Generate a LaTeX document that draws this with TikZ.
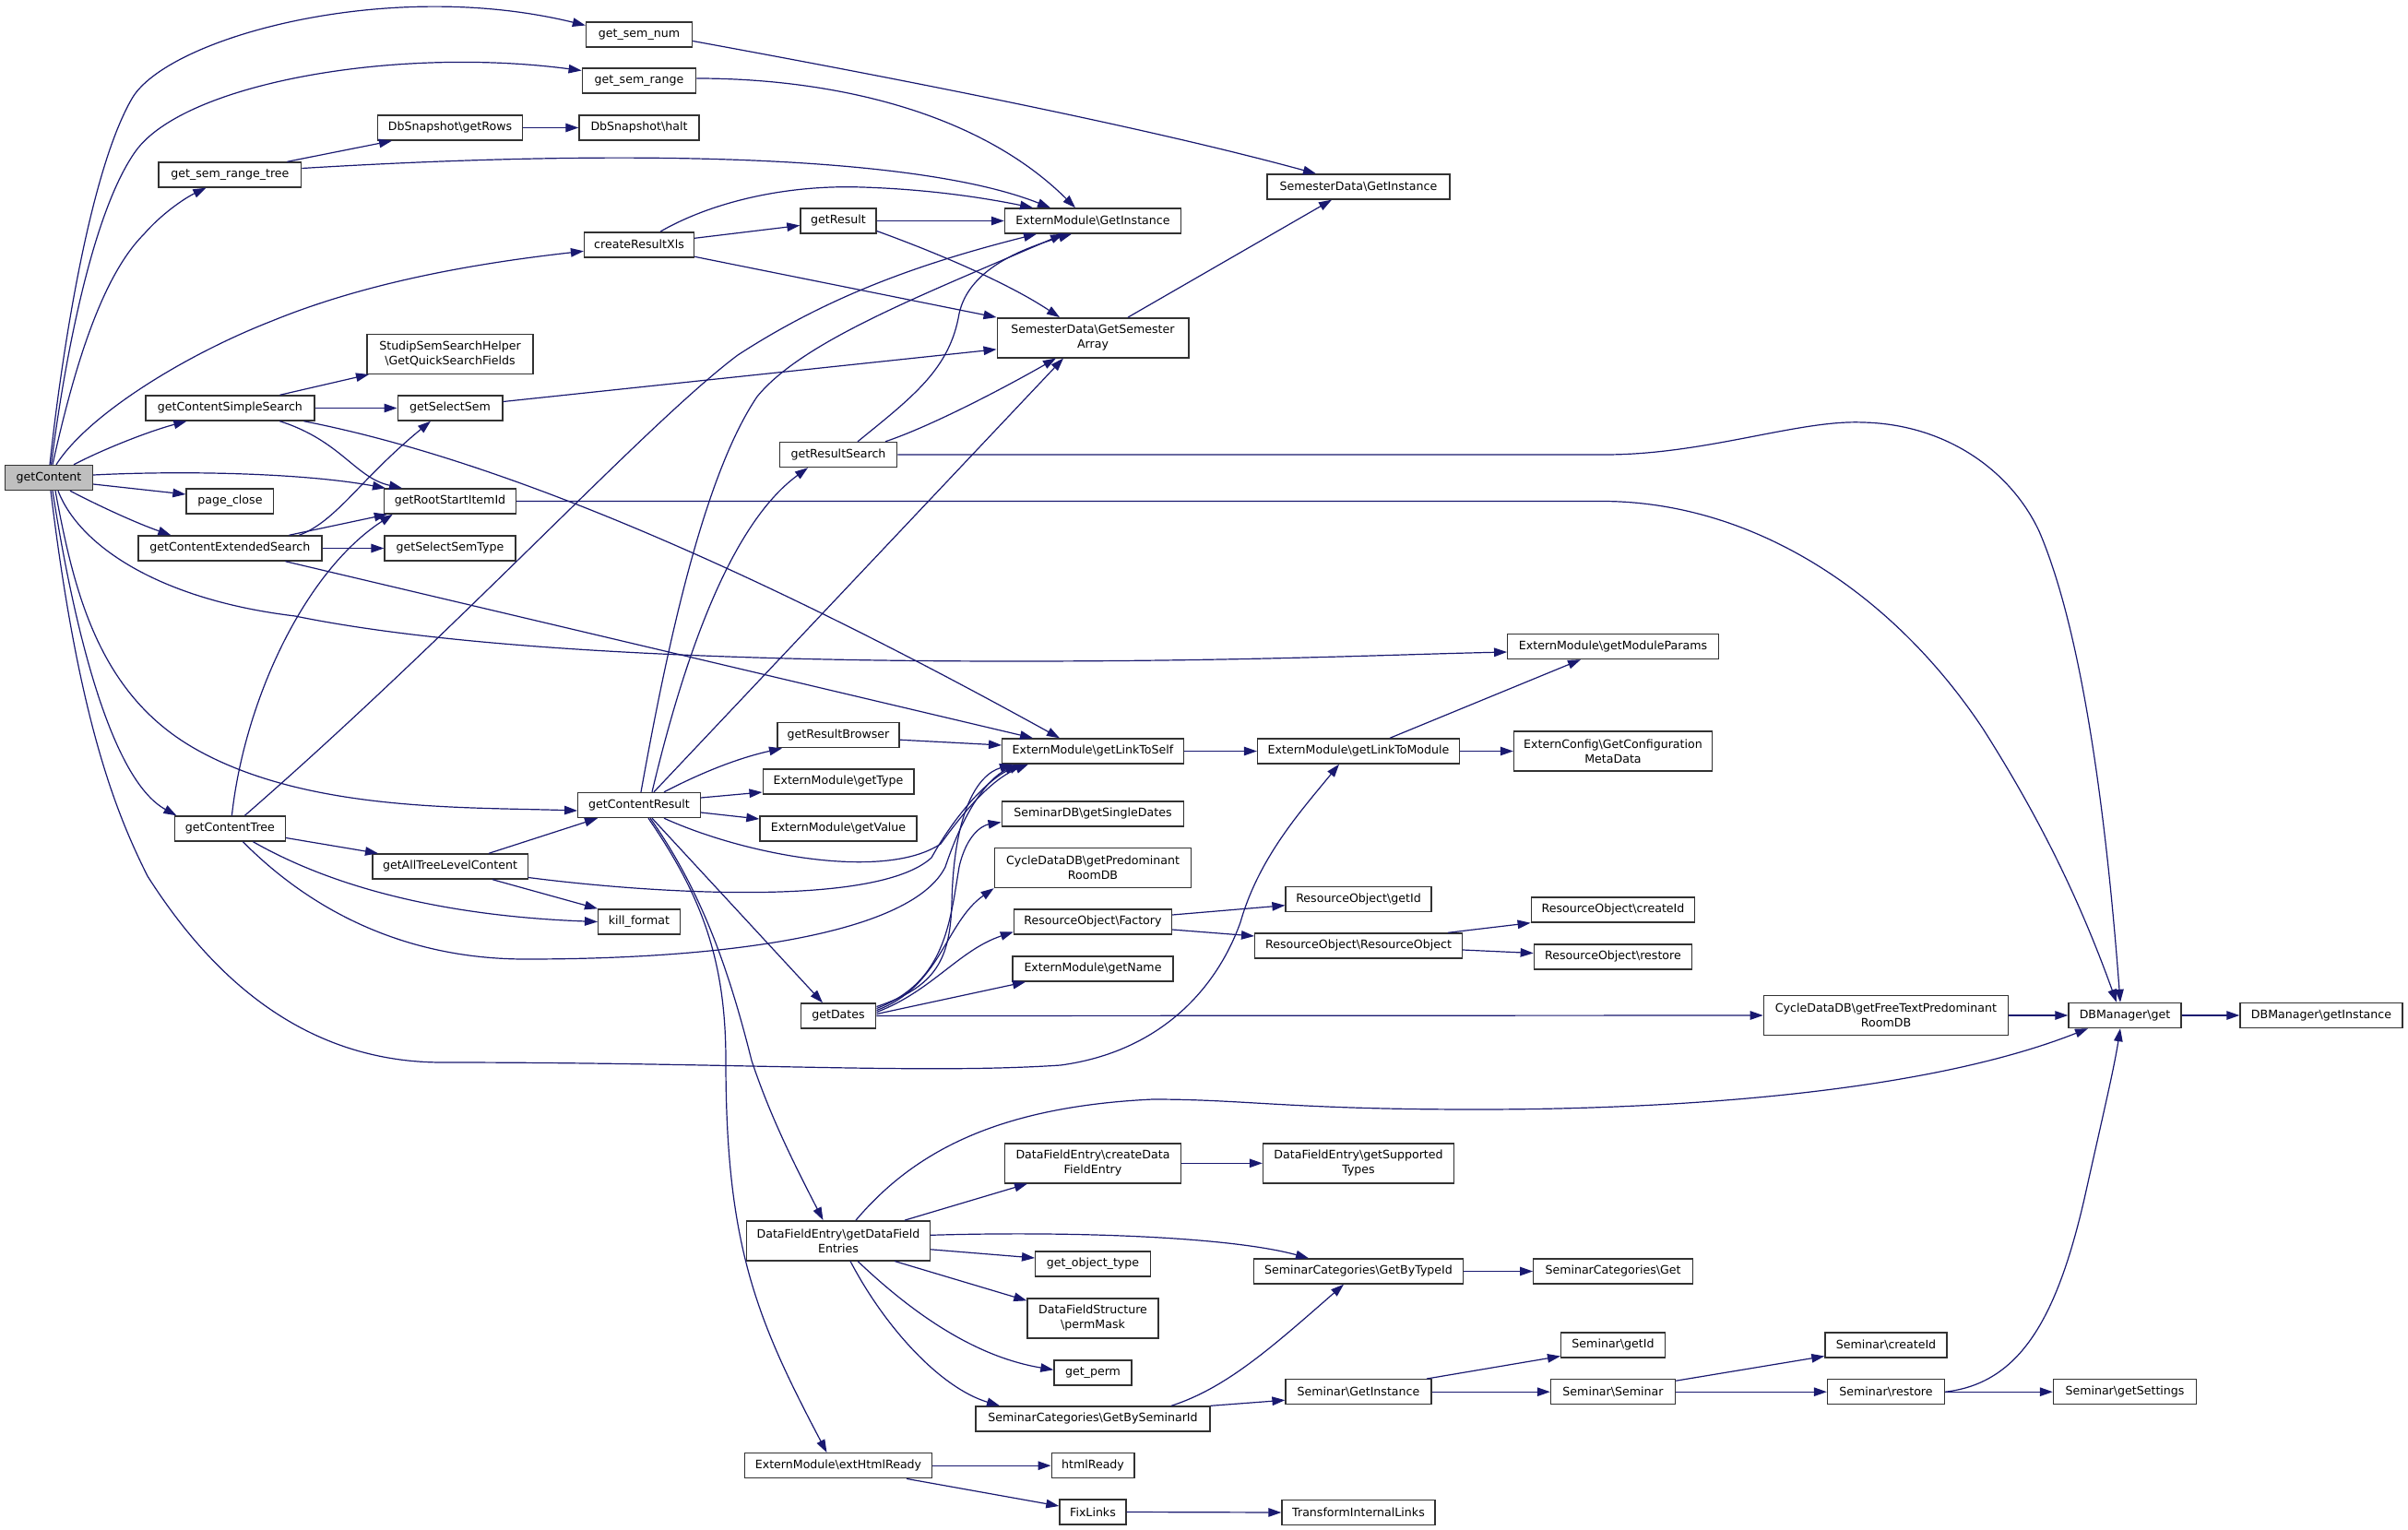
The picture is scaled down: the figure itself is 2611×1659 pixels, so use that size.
\documentclass[tikz,border=0pt]{standalone}
\usepackage{fontspec}
\newfontfamily\dvs{DejaVu Sans}
\usetikzlibrary{arrows.meta}
\definecolor{mblue}{RGB}{25,25,112}
\definecolor{rootgray}{RGB}{191,191,191}
\definecolor{boxline}{RGB}{50,50,50}
\begin{document}
\begin{tikzpicture}[x=1pt,y=-1pt,
  box/.style={draw=boxline, line width=1.4pt, fill=white, inner sep=0pt, minimum height=27pt, align=center, font=\dvs\fontsize{12.6pt}{16pt}\selectfont},
  tall/.style={minimum height=43pt},
  rootbox/.style={box, fill=rootgray},
  edge/.style={draw=mblue, line width=1.2pt, -{Triangle[length=14pt,width=9.5pt]}}]
\useasboundingbox (0,0) rectangle (2611,1659);
\fill[white] (0,0) rectangle (2611,1659);
% nodes
\node[rootbox, minimum width=95pt] (gc) at (53,518) {getContent};
\node[box, minimum width=115pt] (gsn) at (693,37.5) {get\_sem\_num};
\node[box, minimum width=123.5pt] (gsr) at (693,87.5) {get\_sem\_range};
\node[box, minimum width=157.5pt] (dbrows) at (488,138.5) {DbSnapshot\textbackslash getRows};
\node[box, minimum width=130pt] (dbhalt) at (693,138.5) {DbSnapshot\textbackslash halt};
\node[box, minimum width=154.6pt] (gsrt) at (249.4,189.5) {get\_sem\_range\_tree};
\node[box, minimum width=118.8pt] (crx) at (693,265.3) {createResultXls};
\node[box, tall, minimum width=180pt] (gqsf) at (488,383.8) {StudipSemSearchHelper\\\textbackslash GetQuickSearchFields};
\node[box, minimum width=183pt] (gcss) at (249.4,442.5) {getContentSimpleSearch};
\node[box, minimum width=113.6pt] (gss) at (488,442.5) {getSelectSem};
\node[box, minimum width=94.7pt] (pc) at (249.4,543.5) {page\_close};
\node[box, minimum width=143pt] (grsi) at (488,543.5) {getRootStartItemId};
\node[box, minimum width=199pt] (gces) at (249.4,594.5) {getContentExtendedSearch};
\node[box, minimum width=141.8pt] (gsst) at (488,594.5) {getSelectSemType};
\node[box, minimum width=120pt] (gct) at (249.4,898.5) {getContentTree};
\node[box, minimum width=168.4pt] (gatlc) at (488,939.5) {getAllTreeLevelContent};
\node[box, minimum width=88.6pt] (kf) at (693,999.5) {kill\_format};
\node[box, minimum width=132.5pt] (gcr) at (693,873) {getContentResult};
\node[box, minimum width=82pt] (gr) at (909,239.5) {getResult};
\node[box, minimum width=191pt] (emgi) at (1185,239.5) {ExternModule\textbackslash GetInstance};
\node[box, tall, minimum width=207.6pt] (sdgsa) at (1185,366.3) {SemesterData\textbackslash GetSemester\\Array};
\node[box, minimum width=127.5pt] (grs) at (909,493) {getResultSearch};
\node[box, minimum width=198pt] (sdgi) at (1473,202.5) {SemesterData\textbackslash GetInstance};
\node[box, minimum width=132pt] (grb) at (909,797.2) {getResultBrowser};
\node[box, minimum width=196.5pt] (emglts) at (1185,814.5) {ExternModule\textbackslash getLinkToSelf};
\node[box, minimum width=163.6pt] (emgt) at (909,847.5) {ExternModule\textbackslash getType};
\node[box, minimum width=170pt] (emgv) at (909,898.5) {ExternModule\textbackslash getValue};
\node[box, minimum width=197.5pt] (sdbgsd) at (1185,882.5) {SeminarDB\textbackslash getSingleDates};
\node[box, tall, minimum width=213.5pt] (cdgpr) at (1185,941) {CycleDataDB\textbackslash getPredominant\\RoomDB};
\node[box, minimum width=171pt] (rof) at (1185,999.5) {ResourceObject\textbackslash Factory};
\node[box, minimum width=174pt] (emgn) at (1185,1050.5) {ExternModule\textbackslash getName};
\node[box, minimum width=81.5pt] (gd) at (909,1101.5) {getDates};
\node[box, minimum width=228.5pt] (emgmp) at (1749,701) {ExternModule\textbackslash getModuleParams};
\node[box, minimum width=218.8pt] (emgltm) at (1473,814.5) {ExternModule\textbackslash getLinkToModule};
\node[box, tall, minimum width=215pt] (ecgcm) at (1749,814.5) {ExternConfig\textbackslash GetConfiguration\\MetaData};
\node[box, minimum width=157.8pt] (rogi) at (1473,974.7) {ResourceObject\textbackslash getId};
\node[box, minimum width=177.5pt] (roci) at (1749,986.5) {ResourceObject\textbackslash createId};
\node[box, minimum width=224.6pt] (roro) at (1473,1025.5) {ResourceObject\textbackslash ResourceObject};
\node[box, minimum width=171.3pt] (rore) at (1749,1037.5) {ResourceObject\textbackslash restore};
\node[box, tall, minimum width=265.2pt] (cdgft) at (2045,1101) {CycleDataDB\textbackslash getFreeTextPredominant\\RoomDB};
\node[box, minimum width=122pt] (dbg) at (2304,1101) {DBManager\textbackslash get};
\node[box, minimum width=176pt] (dbgi) at (2517,1101) {DBManager\textbackslash getInstance};
\node[box, tall, minimum width=191pt] (dfecd) at (1185,1261.3) {DataFieldEntry\textbackslash createData\\FieldEntry};
\node[box, tall, minimum width=199pt] (dfegd) at (909,1345.3) {DataFieldEntry\textbackslash getDataField\\Entries};
\node[box, minimum width=124.6pt] (got) at (1185,1370.5) {get\_object\_type};
\node[box, tall, minimum width=142pt] (dfspm) at (1185,1429.3) {DataFieldStructure\\\textbackslash permMask};
\node[box, minimum width=84pt] (gp) at (1185,1488.3) {get\_perm};
\node[box, minimum width=254pt] (scgbs) at (1185,1538.5) {SeminarCategories\textbackslash GetBySeminarId};
\node[box, minimum width=203pt] (emehr) at (909,1589.2) {ExternModule\textbackslash extHtmlReady};
\node[box, minimum width=89.6pt] (hr) at (1185,1589.2) {htmlReady};
\node[box, minimum width=72pt] (fl) at (1185,1639.5) {FixLinks};
\node[box, tall, minimum width=207pt] (dfegst) at (1473,1261.3) {DataFieldEntry\textbackslash getSupported\\Types};
\node[box, minimum width=226.8pt] (scgbt) at (1473,1378.5) {SeminarCategories\textbackslash GetByTypeId};
\node[box, minimum width=172.5pt] (scg) at (1749,1378.5) {SeminarCategories\textbackslash Get};
\node[box, minimum width=112.7pt] (sgi) at (1749,1458.5) {Seminar\textbackslash getId};
\node[box, minimum width=157.8pt] (sGI) at (1473,1509.2) {Seminar\textbackslash GetInstance};
\node[box, minimum width=135pt] (ss) at (1749,1509.2) {Seminar\textbackslash Seminar};
\node[box, minimum width=166pt] (til) at (1473,1640) {TransformInternalLinks};
\node[box, minimum width=132pt] (sci) at (2045,1458.5) {Seminar\textbackslash createId};
\node[box, minimum width=127pt] (sre) at (2045,1509.2) {Seminar\textbackslash restore};
\node[box, minimum width=155pt] (sgs) at (2304,1509.2) {Seminar\textbackslash getSettings};
% edges from getContent
\draw[edge] ([xshift=1pt]gc.north) .. controls (65,400) and (95,190) .. (143,107) .. controls (181,41) and (420,-25) .. ([yshift=10pt]gsn.west);
\draw[edge] ([xshift=2.5pt]gc.north) .. controls (70,390) and (100,230) .. (147,164) .. controls (200,90) and (430,50) .. ([yshift=11pt]gsr.west);
\draw[edge] ([xshift=4pt]gc.north) .. controls (80,400) and (110,300) .. (156,254) .. controls (175,232) and (200,215) .. ([xshift=-26pt]gsrt.south);
\draw[edge] ([xshift=8pt]gc.north) .. controls (95,450) and (200,385) .. (295,348) .. controls (400,305) and (520,285) .. ([yshift=-7pt]crx.west);
\draw[edge] ([xshift=27pt]gc.north) .. controls (110,488) and (160,468) .. ([xshift=-47pt]gcss.south);
\draw[edge] ([yshift=3pt]gc.east) .. controls (200,510) and (330,513) .. ([xshift=-70pt]grsi.north);
\draw[edge] ([yshift=-7pt]gc.east) -- ([yshift=7.5pt]pc.west);
\draw[edge] ([xshift=23pt]gc.south) .. controls (110,550) and (150,568) .. ([xshift=-64pt]gces.north);
\draw[edge] ([xshift=10pt]gc.south) .. controls (85,590) and (170,650) .. (320,668) .. controls (500,705) and (800,717) .. (1100,717) .. controls (1350,717) and (1500,710) .. ([yshift=-6pt]emgmp.west);
\draw[edge] ([xshift=4pt]gc.south) .. controls (80,680) and (120,845) .. ([xshift=-58pt]gct.north);
\draw[edge] ([xshift=7pt]gc.south) .. controls (80,640) and (106,751) .. (210,811) .. controls (330,880) and (500,875) .. ([yshift=-6pt]gcr.west);
\draw[edge] ([xshift=2pt]gc.south) .. controls (85,780) and (125,880) .. (160,950) .. controls (230,1060) and (330,1152) .. (480,1152) .. controls (800,1152) and (1000,1165) .. (1150,1155) .. controls (1260,1140) and (1320,1070) .. (1345,1000) .. controls (1365,930) and (1410,880) .. ([xshift=-21pt]emgltm.south);
% getContentSimpleSearch
\draw[edge] ([xshift=54pt]gcss.north) -- ([xshift=-88pt]gqsf.south);
\draw[edge] (gcss.east) -- (gss.west);
\draw[edge] ([xshift=54pt]gcss.south) .. controls (370,478) and (385,518) .. ([xshift=-52pt]grsi.north);
\draw[edge] ([xshift=80pt]gcss.south) .. controls (500,490) and (750,580) .. ([xshift=-36pt]emglts.north);
% getContentExtendedSearch
\draw[edge] (gces.east) -- (gsst.west);
\draw[edge] ([xshift=64pt]gces.north) -- ([xshift=4pt]grsi.south west);
\draw[edge] ([xshift=75pt]gces.north) .. controls (365,565) and (390,520) .. ([xshift=-21pt]gss.south);
\draw[edge] ([xshift=60pt]gces.south) -- ([xshift=-65pt]emglts.north);
% getContentTree
\draw[edge] ([yshift=-10pt]gct.east) -- ([xshift=-78pt]gatlc.north);
\draw[edge] ([xshift=25pt]gct.south) .. controls (340,950) and (450,992) .. (kf.west);
\draw[edge] ([xshift=14pt]gct.south) .. controls (330,980) and (430,1040) .. (570,1040) .. controls (800,1040) and (990,1010) .. (1025,940) .. controls (1045,880) and (1070,845) .. ([xshift=-82pt]emglts.south);
\draw[edge] ([xshift=2pt]gct.north) .. controls (265,760) and (330,620) .. ([xshift=10pt]grsi.south west);
\draw[edge] ([xshift=16pt]gct.north) .. controls (500,680) and (700,460) .. (800,385) .. controls (900,320) and (1000,285) .. ([xshift=-61pt]emgi.south);
% getAllTreeLevelContent
\draw[edge] ([xshift=42pt]gatlc.north) -- ([xshift=-45pt]gcr.south);
\draw[edge] ([xshift=46pt]gatlc.south) -- (kf.north west);
\draw[edge] ([yshift=-12pt]gatlc.east) .. controls (700,968) and (950,985) .. (1010,930) .. controls (1035,885) and (1070,845) .. ([xshift=-77pt]emglts.south);
% getContentResult
\draw[edge] ([xshift=14pt]gcr.north) .. controls (740,720) and (790,570) .. ([xshift=-33pt]grs.south);
\draw[edge] ([xshift=2pt]gcr.north) .. controls (720,720) and (760,520) .. (821,430) .. controls (870,370) and (1000,320) .. ([xshift=-32pt]emgi.south);
\draw[edge] ([xshift=16pt]gcr.north) -- ([xshift=-32pt]sdgsa.south);
\draw[edge] ([xshift=27pt]gcr.north) .. controls (760,838) and (800,822) .. ([xshift=-61pt]grb.south);
\draw[edge] ([yshift=8pt]gcr.east) -- ([yshift=-11.5pt]emgt.west);
\draw[edge] ([yshift=-8pt]gcr.east) -- ([yshift=10.5pt]emgv.west);
\draw[edge] ([xshift=27pt]gcr.south) .. controls (810,928) and (960,955) .. (1020,915) .. controls (1045,880) and (1075,845) .. ([xshift=-70pt]emglts.south);
\draw[edge] ([xshift=14pt]gcr.south) -- ([xshift=-17pt]gd.north);
\draw[edge] ([xshift=12pt]gcr.south) .. controls (760,965) and (790,1050) .. (815,1150) .. controls (835,1210) and (860,1260) .. ([xshift=-16.5pt]dfegd.north);
\draw[edge] ([xshift=10pt]gcr.south) .. controls (760,970) and (787,1040) .. (787,1150) .. controls (787,1350) and (820,1430) .. ([xshift=-12.5pt]emehr.north);
% getResultSearch
\draw[edge] ([xshift=21pt]grs.north) .. controls (990,430) and (1030,400) .. (1040,340) .. controls (1050,295) and (1100,272) .. ([xshift=-23pt]emgi.south);
\draw[edge] ([xshift=51pt]grs.north) .. controls (1010,462) and (1090,420) .. ([xshift=-40pt]sdgsa.south);
\draw[edge] (grs.east) -- (1740,493) .. controls (1850,493) and (1950,455) .. (2020,458) .. controls (2110,460) and (2180,510) .. (2211,576) .. controls (2260,690) and (2285,900) .. ([xshift=-5pt]dbg.north);
% getRootStartItemId
\draw[edge] (grsi.east) -- (1740,543.5) .. controls (1900,545) and (2050,640) .. (2150,790) .. controls (2220,900) and (2260,990) .. ([xshift=-9pt]dbg.north);
% getResult, createResultXls
\draw[edge] (gr.east) -- (emgi.west);
\draw[edge] ([yshift=-11pt]gr.east) .. controls (1010,272) and (1090,305) .. ([xshift=-36pt]sdgsa.north);
\draw[edge] ([yshift=7pt]crx.east) -- ([yshift=-5pt]gr.west);
\draw[edge] ([xshift=23pt]crx.north) .. controls (770,220) and (850,200) .. (935,203) .. controls (1000,205) and (1060,213) .. ([xshift=-65pt]emgi.north);
\draw[edge] ([yshift=-13pt]crx.east) -- (sdgsa.north west);
% get_sem_range_tree, get_sem_num, get_sem_range
\draw[edge] ([xshift=62pt]gsrt.north) -- ([xshift=-63pt]dbrows.south);
\draw[edge] ([yshift=7pt]gsrt.east) .. controls (700,160) and (1000,170) .. ([xshift=-46pt]emgi.north);
\draw[edge] (dbrows.east) -- (dbhalt.west);
\draw[edge] ([yshift=-7pt]gsn.east) .. controls (1000,90) and (1250,140) .. ([xshift=-46pt]sdgi.north);
\draw[edge] ([yshift=2.5pt]gsr.east) .. controls (900,85) and (1060,120) .. ([xshift=-19pt]emgi.north);
\draw[edge] ([xshift=38pt]sdgsa.north) -- ([xshift=-29pt]sdgi.south);
\draw[edge] ([yshift=7pt]gss.east) -- ([yshift=-12.5pt]sdgsa.west);
% getResultBrowser, link chain
\draw[edge] ([yshift=-5pt]grb.east) -- ([yshift=6.5pt]emglts.west);
\draw[edge] (emglts.east) -- (emgltm.west);
\draw[edge] ([xshift=34pt]emgltm.north) -- ([xshift=-35pt]emgmp.south);
\draw[edge] (emgltm.east) -- (ecgcm.west);
% getDates
\draw[edge] ([yshift=10pt]gd.east) .. controls (1015,1070) and (1030,1040) .. (1032,980) .. controls (1034,880) and (1060,840) .. ([xshift=-87pt]emglts.south);
\draw[edge] ([yshift=8pt]gd.east) .. controls (1025,1065) and (1030,1000) .. (1040,940) .. controls (1048,905) and (1065,895) .. ([yshift=-9pt]sdbgsd.west);
\draw[edge] ([yshift=6pt]gd.east) .. controls (1020,1070) and (1025,1000) .. (cdgpr.south west);
\draw[edge] ([yshift=4pt]gd.east) .. controls (1010,1075) and (1040,1030) .. ([yshift=-11pt]rof.west);
\draw[edge] ([yshift=2pt]gd.east) -- ([xshift=-73pt]emgn.south);
\draw[edge] (gd.east) -- (cdgft.west);
% ResourceObject
\draw[edge] ([yshift=7.5pt]rof.east) -- ([yshift=-7pt]rogi.west);
\draw[edge] ([yshift=-8.5pt]rof.east) -- ([yshift=10.5pt]roro.west);
\draw[edge] ([xshift=97pt]roro.north) -- (roci.south west);
\draw[edge] ([yshift=-4.5pt]roro.east) -- ([yshift=4pt]rore.west);
% DB
\draw[edge] (cdgft.east) -- (dbg.west);
\draw[edge] (dbg.east) -- (dbgi.west);
% DataFieldEntry
\draw[edge] ([xshift=19pt]dfegd.north) .. controls (990,1250) and (1080,1200) .. (1250,1192) .. controls (1350,1192) and (1400,1203) .. (1600,1203) .. controls (1850,1203) and (2100,1180) .. ([xshift=-40pt]dbg.south);
\draw[edge] ([xshift=72pt]dfegd.north) -- ([xshift=-71pt]dfecd.south);
\draw[edge] ([yshift=6pt]dfegd.east) .. controls (1150,1335) and (1330,1340) .. ([xshift=-54pt]scgbt.north);
\draw[edge] ([yshift=-9.5pt]dfegd.east) -- ([yshift=6.5pt]got.west);
\draw[edge] ([xshift=61pt]dfegd.south) -- ([yshift=19pt]dfspm.west);
\draw[edge] ([xshift=21pt]dfegd.south) .. controls (980,1415) and (1050,1470) .. ([yshift=3pt]gp.west);
\draw[edge] ([xshift=13pt]dfegd.south) .. controls (960,1440) and (1020,1505) .. ([xshift=-101pt]scgbs.north);
\draw[edge] (dfecd.east) -- (dfegst.west);
\draw[edge] (scgbt.east) -- (scg.west);
\draw[edge] ([xshift=85pt]scgbs.north) .. controls (1330,1505) and (1380,1460) .. ([xshift=-16pt]scgbt.south);
\draw[edge] (scgbs.north east) -- ([yshift=-9pt]sGI.west);
% Seminar
\draw[edge] ([xshift=74pt]sGI.north) -- ([yshift=-12pt]sgi.west);
\draw[edge] (sGI.east) -- (ss.west);
\draw[edge] ([yshift=12pt]ss.east) -- ([yshift=-12pt]sci.west);
\draw[edge] (ss.east) -- (sre.west);
\draw[edge] (sre.east) -- (sgs.west);
\draw[edge] (sre.east) .. controls (2190,1500) and (2230,1430) .. (2260,1300) .. controls (2280,1210) and (2292,1160) .. ([xshift=-5pt]dbg.south);
% extHtmlReady
\draw[edge] (emehr.east) -- (hr.west);
\draw[edge] ([xshift=74pt]emehr.south) -- ([yshift=6.5pt]fl.west);
\draw[edge] (fl.east) -- (til.west);
\end{tikzpicture}
\end{document}
